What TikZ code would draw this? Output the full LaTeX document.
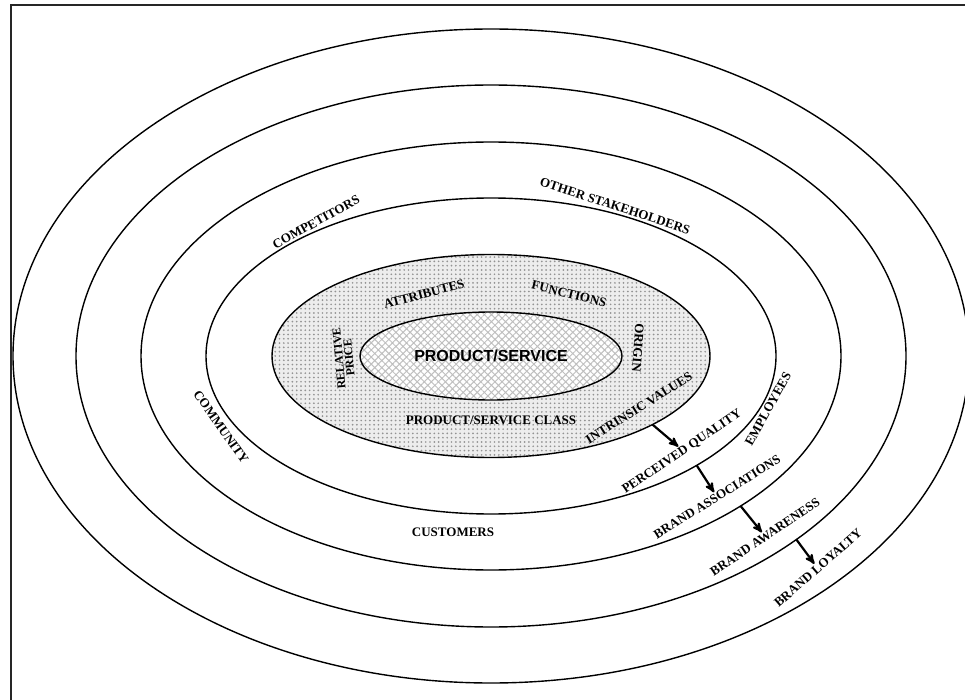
\documentclass[tikz,border=0pt]{standalone}
\usepackage{fontspec}
\setmainfont{Liberation Serif}
\newfontfamily\arialfont{Liberation Sans}
\usetikzlibrary{arrows}
\usetikzlibrary{patterns.meta}
\usetikzlibrary{shapes.geometric}

\begin{document}
\begin{tikzpicture}[x=1pt,y=-1pt,
 ring/.style={ellipse, draw, line width=1.4pt, inner sep=0, outer sep=0},
 lbl/.style={font=\bfseries\fontsize{13}{13}\selectfont, inner sep=1pt}]
\useasboundingbox (0,0) rectangle (965,700);
\draw[black!85, line width=2.6pt] (11,700)--(11,5)--(965,5);
\foreach \n/\w/\h in {e1/956/654, e2/830/542, e3/700/428, e4/570/316} {
 \node[ring, minimum width=\w pt, minimum height=\h pt] (\n) at (491,356) {};
}
\node[ring, minimum width=438pt, minimum height=203pt, preaction={fill=gray!14},
 pattern={Dots[distance=4.3pt, radius=0.95pt]}, pattern color=gray!85] (shade) at (491,356) {};
\node[ring, minimum width=262pt, minimum height=88pt, preaction={fill=white},
 pattern={Hatch[angle=45, distance=5pt, line width=1pt]}, pattern color=gray!50,
 font=\arialfont\bfseries\fontsize{16}{16}\selectfont] (core) at (491,356) {PRODUCT/SERVICE};
\node[lbl, rotate=15] (attr) at (424,294) {ATTRIBUTES};
\node[lbl, rotate=-14] (func) at (569,294) {FUNCTIONS};
\node[lbl, rotate=-94] (origin) at (638,348) {ORIGIN};
\node[lbl, rotate=95, align=center, font=\bfseries\fontsize{12}{10}\selectfont] (price) at (344,358) {RELATIVE\\PRICE};
\node[lbl] (class) at (491,420) {PRODUCT/SERVICE CLASS};
\node[lbl, rotate=32] (iv) at (639,408) {INTRINSIC VALUES};
\node[lbl, rotate=34] (pq) at (682,452) {PERCEIVED QUALITY};
\node[lbl, rotate=61] (emp) at (768,409) {EMPLOYEES};
\node[lbl, rotate=32] (ba) at (717,497) {BRAND ASSOCIATIONS};
\node[lbl, rotate=34] (baw) at (765,537) {BRAND AWARENESS};
\node[lbl, rotate=41] (bl) at (818,568) {BRAND LOYALTY};
\node[lbl, rotate=29] (comp) at (316,222) {COMPETITORS};
\node[lbl, rotate=-18] (other) at (615,206) {OTHER STAKEHOLDERS};
\node[lbl] (cust) at (453,532) {CUSTOMERS};
\node[lbl, rotate=-55] (comm) at (221,427) {COMMUNITY};
\foreach \a/\b in {shade.-23/pq, e4.-28/ba, e3.-31/baw, e2.-31/bl} {
 \draw[black, line width=2.2pt, ->, >=stealth'] (\a) -- (\b.north);
}
\end{tikzpicture}
\end{document}
